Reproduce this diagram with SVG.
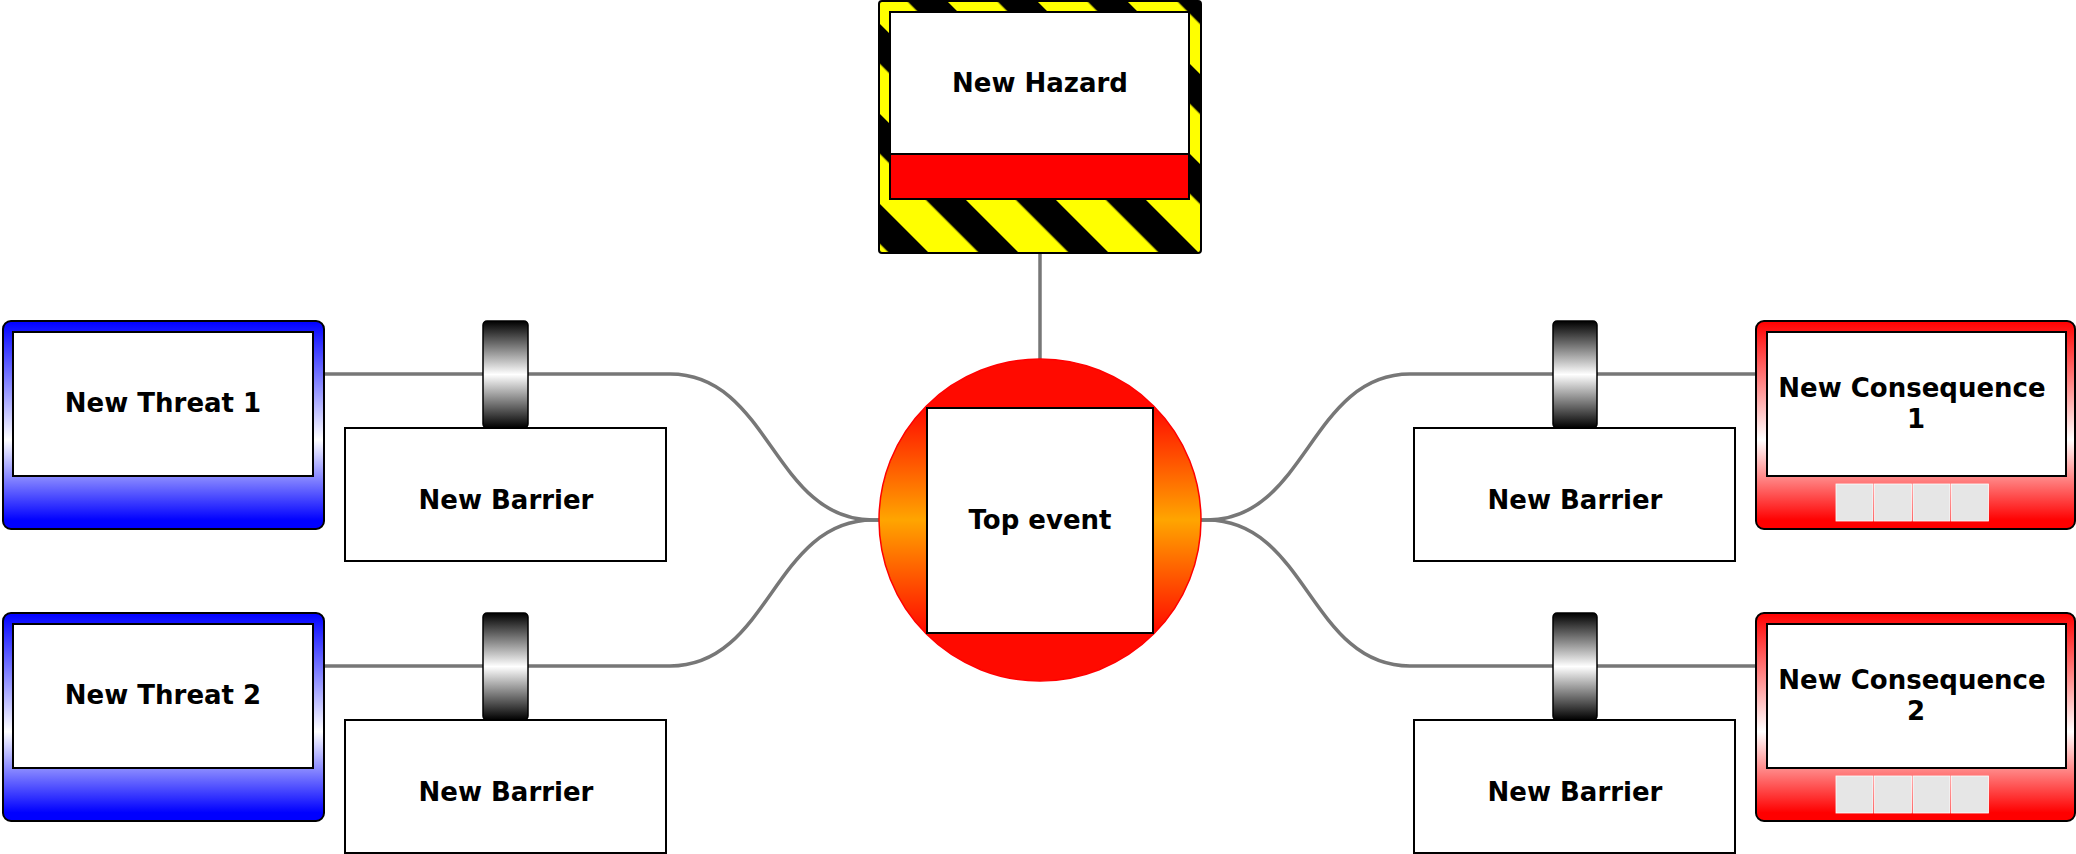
<svg xmlns="http://www.w3.org/2000/svg" width="2076" height="854" viewBox="0 0 2076 854">
  <defs>
    <linearGradient id="threatFill" x1="0" y1="0" x2="0" y2="1">
      <stop offset="0" stop-color="#0000ff"/>
      <stop offset="0.57" stop-color="#ffffff"/>
      <stop offset="0.96" stop-color="#0000ff"/>
    </linearGradient>
    <linearGradient id="consFill" x1="0" y1="0" x2="0" y2="1">
      <stop offset="0" stop-color="#ff0000"/>
      <stop offset="0.57" stop-color="#ffffff"/>
      <stop offset="0.96" stop-color="#ff0000"/>
    </linearGradient>
    <linearGradient id="capFill" x1="0" y1="0" x2="0" y2="1">
      <stop offset="0" stop-color="#000000"/>
      <stop offset="0.5" stop-color="#ffffff"/>
      <stop offset="1" stop-color="#000000"/>
    </linearGradient>
    <linearGradient id="topFill" x1="0" y1="0" x2="0" y2="1">
      <stop offset="0.15" stop-color="#ff0a00"/>
      <stop offset="0.5" stop-color="#ffa500"/>
      <stop offset="0.85" stop-color="#ff0a00"/>
    </linearGradient>
    <pattern id="hazardStripes" patternUnits="userSpaceOnUse" x="32.5" y="0" width="63.64" height="63.64" patternTransform="rotate(-45)">
      <rect x="0" y="0" width="63.64" height="63.64" fill="#000000"/>
      <rect x="0" y="0" width="35.4" height="63.64" fill="#ffff00"/>
    </pattern>
  </defs>
  <style>
    .lbl { font-family: "DejaVu Sans", Verdana, sans-serif; font-weight: bold; font-size: 26px; fill: #000; text-anchor: middle; }
    .wire { fill: none; stroke: #777777; stroke-width: 3.5; }
    .box { fill: #ffffff; stroke: #000000; stroke-width: 2; }
    .cap { fill: url(#capFill); stroke: #000000; stroke-width: 1.5; }
    .frame { stroke: #000000; stroke-width: 2; }
    .cell { fill: #e6e6e6; stroke: #ffffff; stroke-width: 0.8; }
  </style>
  <rect width="2076" height="854" fill="#ffffff"/>

  <!-- connectors -->
  <g id="connectors">
    <path class="wire" d="M1040 254 V360"/>
    <path class="wire" d="M324 374 H670 C770 374 773 520 873 520 H880"/>
    <path class="wire" d="M324 666 H670 C770 666 773 520 873 520 H880"/>
    <path class="wire" d="M1200 520 H1207 C1307 520 1310 374 1410 374 H1756"/>
    <path class="wire" d="M1200 520 H1207 C1307 520 1310 666 1410 666 H1756"/>
  </g>

  <!-- hazard -->
  <g id="hazard">
    <rect x="879" y="1" width="322" height="252" rx="3" fill="url(#hazardStripes)" class="frame"/>
    <rect x="890" y="12" width="299" height="142" class="box"/>
    <rect x="890" y="154" width="299" height="45" fill="#ff0000" stroke="#000" stroke-width="2"/>
    <text class="lbl" x="1040" y="92">New Hazard</text>
  </g>

  <!-- top event -->
  <g id="top-event">
    <circle cx="1040" cy="520" r="161" fill="url(#topFill)" stroke="#ff0000" stroke-width="1.5"/>
    <rect x="927" y="408" width="226" height="225" class="box"/>
    <text class="lbl" x="1040" y="529">Top event</text>
  </g>

  <!-- threats -->
  <g id="threat-1">
    <rect x="3" y="321" width="321" height="208" rx="8" fill="url(#threatFill)" class="frame"/>
    <rect x="13" y="332" width="300" height="144" class="box"/>
    <text class="lbl" x="163" y="412">New Threat 1</text>
  </g>
  <g id="threat-2">
    <rect x="3" y="613" width="321" height="208" rx="8" fill="url(#threatFill)" class="frame"/>
    <rect x="13" y="624" width="300" height="144" class="box"/>
    <text class="lbl" x="163" y="704">New Threat 2</text>
  </g>

  <!-- barriers -->
  <g id="barrier-1">
    <rect x="345" y="428" width="321" height="133" class="box"/>
    <rect x="483" y="321" width="45" height="107" rx="4" class="cap"/>
    <text class="lbl" x="506" y="509">New Barrier</text>
  </g>
  <g id="barrier-2">
    <rect x="345" y="720" width="321" height="133" class="box"/>
    <rect x="483" y="613" width="45" height="107" rx="4" class="cap"/>
    <text class="lbl" x="506" y="801">New Barrier</text>
  </g>
  <g id="barrier-3">
    <rect x="1414" y="428" width="321" height="133" class="box"/>
    <rect x="1553" y="321" width="44" height="107" rx="4" class="cap"/>
    <text class="lbl" x="1575" y="509">New Barrier</text>
  </g>
  <g id="barrier-4">
    <rect x="1414" y="720" width="321" height="133" class="box"/>
    <rect x="1553" y="613" width="44" height="107" rx="4" class="cap"/>
    <text class="lbl" x="1575" y="801">New Barrier</text>
  </g>

  <!-- consequences -->
  <g id="consequence-1">
    <rect x="1756" y="321" width="319" height="208" rx="8" fill="url(#consFill)" class="frame"/>
    <rect x="1767" y="332" width="299" height="144" class="box"/>
    <text class="lbl" x="1912" y="397">New Consequence</text>
    <text class="lbl" x="1916" y="428">1</text>
    <rect class="cell" x="1836" y="484" width="37" height="37"/>
    <rect class="cell" x="1874.5" y="484" width="37" height="37"/>
    <rect class="cell" x="1913" y="484" width="37" height="37"/>
    <rect class="cell" x="1951.5" y="484" width="37" height="37"/>
  </g>
  <g id="consequence-2">
    <rect x="1756" y="613" width="319" height="208" rx="8" fill="url(#consFill)" class="frame"/>
    <rect x="1767" y="624" width="299" height="144" class="box"/>
    <text class="lbl" x="1912" y="689">New Consequence</text>
    <text class="lbl" x="1916" y="720">2</text>
    <rect class="cell" x="1836" y="776" width="37" height="37"/>
    <rect class="cell" x="1874.5" y="776" width="37" height="37"/>
    <rect class="cell" x="1913" y="776" width="37" height="37"/>
    <rect class="cell" x="1951.5" y="776" width="37" height="37"/>
  </g>
</svg>
